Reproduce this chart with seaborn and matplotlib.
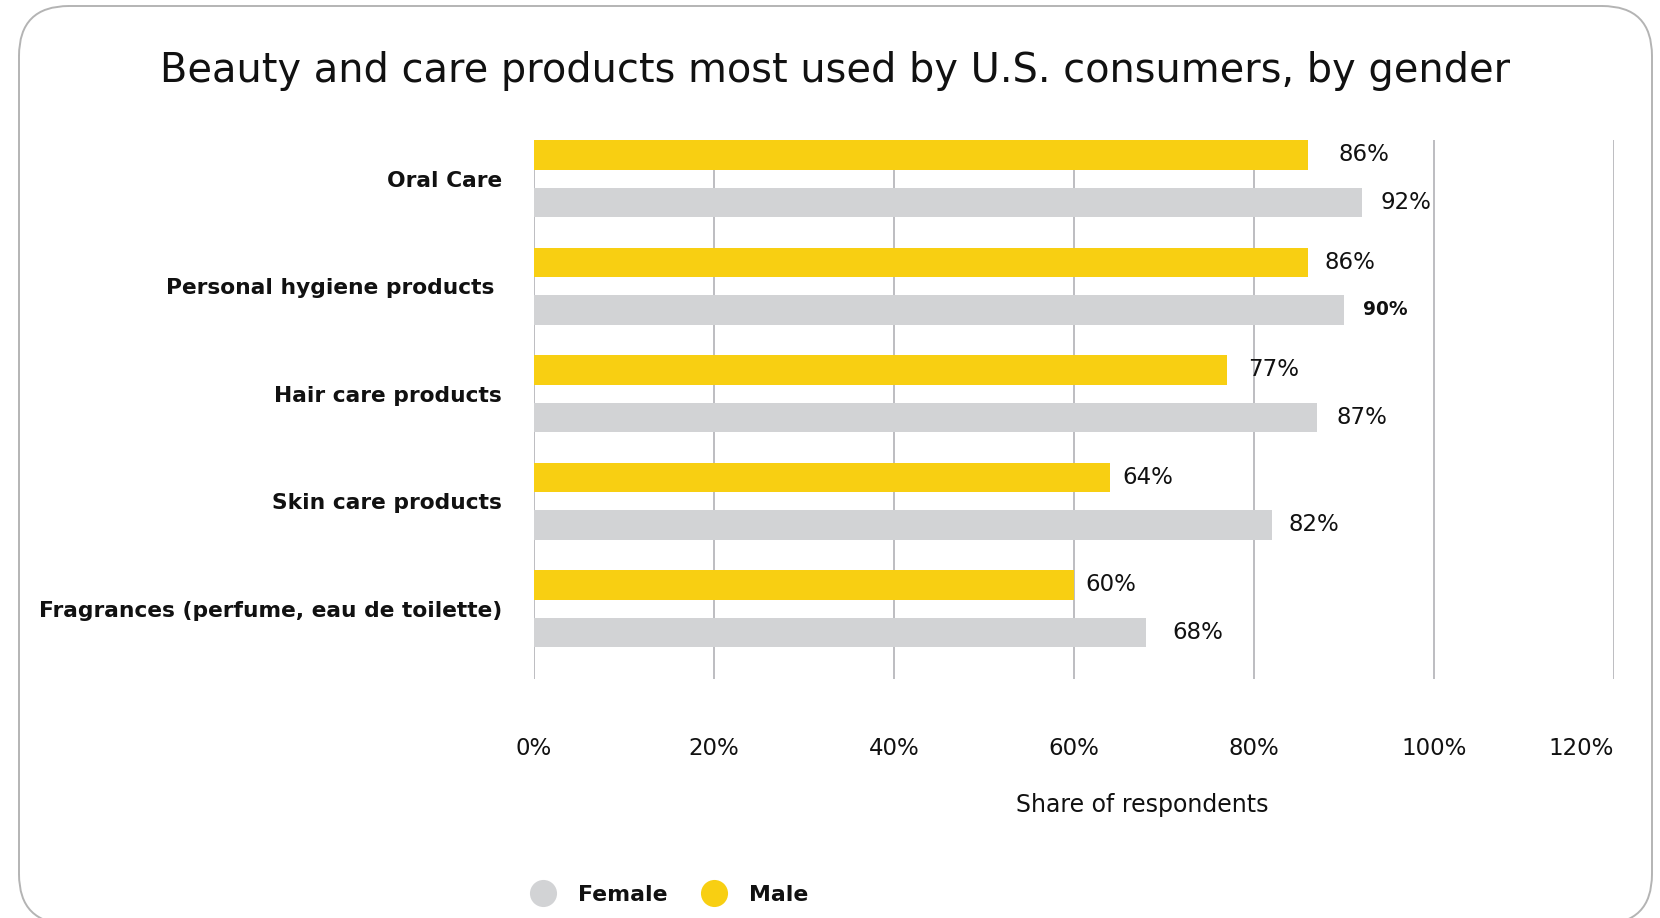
import pandas as pd
import seaborn as sns
import matplotlib.pyplot as plt
from matplotlib.patches import FancyBboxPatch
from matplotlib.lines import Line2D
from matplotlib.ticker import FixedLocator, FuncFormatter
from matplotlib.transforms import IdentityTransform

# Survey data: share of respondents using each product type
categories = [
    "Oral Care",
    "Personal hygiene products ",
    "Hair care products",
    "Skin care products",
    "Fragrances (perfume, eau de toilette)",
]
male = [86, 86, 77, 64, 60]
female = [92, 90, 87, 82, 68]
genders = ["Male", "Female"]
legend_order = ["Female", "Male"]
x_ticks = [0, 20, 40, 60, 80, 100, 120]

# Gap (pixels) between each bar end and its value label
male_label_gap = [31, 16, 21, 12, 11]
female_label_gap = [18, 19, 20, 16, 26]

df = pd.DataFrame({
    "category": categories * 2,
    "gender": ["Male"] * len(categories) + ["Female"] * len(categories),
    "share": male + female,
})

sns.set_theme(style="white")
plt.rcParams["font.family"] = ["DejaVu Sans"]

YELLOW = "#F8CF12"
GREY = "#D2D3D5"
TEXT = "#111111"
palette = {"Male": YELLOW, "Female": GREY}

W, H = 1660, 918
fig = plt.figure(figsize=(W / 100, H / 100), dpi=100)
fig.patch.set_facecolor("white")

# Rounded card outline (drawn in pixel space)
card = FancyBboxPatch((19, -6), 1633, 918, boxstyle="round,pad=0,rounding_size=50",
                      transform=IdentityTransform(), facecolor="none",
                      edgecolor="#B4B4B4", linewidth=1.4, zorder=0)
fig.patches.append(card)

ax_left, ax_right = 534, 1614
ax_top, ax_bottom = 140, 679
ax = fig.add_axes([ax_left / W, (H - ax_bottom) / H,
                   (ax_right - ax_left) / W, (ax_bottom - ax_top) / H])
ax.set_facecolor("none")

sns.barplot(data=df, y="category", x="share", hue="gender", hue_order=genders,
            order=categories, palette=palette, saturation=1, width=0.884, gap=0.38,
            orient="h", ax=ax, legend=False, edgecolor="none", linewidth=0)

ax.set_xlim(0, 120)
ax.set_ylim(4.654, -0.359)
ax.xaxis.set_major_locator(FixedLocator(x_ticks))
ax.xaxis.set_major_formatter(FuncFormatter(lambda v, p: f"{v:.0f}%"))
ax.xaxis.grid(True, color="#B8B8BC", linewidth=1.3)
ax.yaxis.grid(False)
ax.set_axisbelow(True)
for s in ax.spines.values():
    s.set_visible(False)

ax.tick_params(axis="x", length=0, pad=42, labelsize=16.5, colors=TEXT)
ax.tick_params(axis="y", length=0, pad=23, labelsize=15.7, colors=TEXT)
ax.get_xticklabels()[-1].set_horizontalalignment("right")
ax.set_yticks(range(len(categories)))
ax.set_yticklabels(categories, fontweight="bold")
ax.set_ylabel("")

ax.set_xlabel("Share of respondents", fontsize=17, color=TEXT)
ax.xaxis.set_label_coords(0.563, -0.234)
ax.xaxis.label.set_verticalalignment("center")

# Value labels from the drawn bars
for container, gaps in zip(ax.containers, [male_label_gap, female_label_gap]):
    for bar, gap in zip(container, gaps):
        value = bar.get_width()
        yc = bar.get_y() + bar.get_height() / 2
        bold = container is ax.containers[1] and value == 90
        ax.annotate(f"{value:.0f}%", xy=(value, yc), xytext=(gap * 0.72, 0),
                    textcoords="offset points", ha="left", va="center",
                    fontsize=13.4 if bold else 16.5,
                    fontweight="bold" if bold else "normal", color=TEXT)

# Title
fig.text(0.503, 1 - 71 / H, "Beauty and care products most used by U.S. consumers, by gender",
         ha="center", va="center", fontsize=28.7, color=TEXT)

# Legend with round markers
handles = [Line2D([], [], marker="o", linestyle="", markersize=19.5,
                  markerfacecolor=palette[g], markeredgecolor="none") for g in legend_order]
leg = fig.legend(handles, legend_order, loc="center left",
                 bbox_to_anchor=((543 - 13.3) / W, 1 - 895 / H),
                 frameon=False, ncol=2, handlelength=1.2, handletextpad=1.0,
                 columnspacing=1.5, borderpad=0, borderaxespad=0,
                 prop={"weight": "bold", "size": 15.8})
for t in leg.get_texts():
    t.set_color(TEXT)

fig.savefig("out.png", dpi=100, facecolor="white")
